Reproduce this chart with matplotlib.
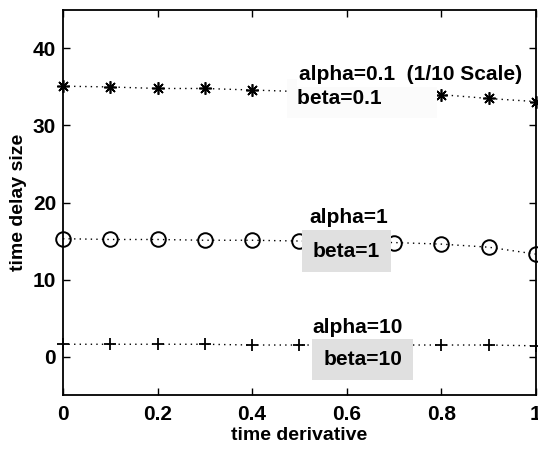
import matplotlib
matplotlib.use('Agg')
import matplotlib.pyplot as plt

plt.rcParams['font.family'] = ['Liberation Sans', 'DejaVu Sans']

x = [0, 0.1, 0.2, 0.3, 0.4, 0.5, 0.6, 0.7, 0.8, 0.9, 1.0]
# alpha=beta=0.1 (1/10 scale)
y_small = [35.1, 35.0, 34.8, 34.8, 34.6, 34.4, 34.3, 34.2, 34.0, 33.5, 33.1]
# alpha=beta=1
y_mid = [15.3, 15.2, 15.2, 15.1, 15.1, 15.0, 14.9, 14.8, 14.6, 14.2, 13.3]
# alpha=beta=10
y_big = [1.6, 1.6, 1.6, 1.6, 1.5, 1.5, 1.5, 1.5, 1.5, 1.5, 1.4]

fig = plt.figure(figsize=(5.38, 4.5), dpi=100)
ax = fig.add_axes([0.117, 0.122, 0.879, 0.856])

dots = (0, (1, 3))
ax.plot(x, y_small, color='k', ls=dots, marker=(8, 2, 0), ms=9, mew=1.2, lw=1, clip_on=False)
ax.plot(x, y_mid, color='k', ls=dots, marker='o', ms=10.5, mfc='none', mew=1.4, lw=1, clip_on=False)
ax.plot(x, y_big, color='k', ls=dots, marker='+', ms=9, mew=1.3, lw=1, clip_on=False)

white = dict(facecolor='white', edgecolor='none', pad=2)
pale = dict(facecolor='#fbfbfb', edgecolor='none', pad=7)
grey = dict(facecolor='#e0e0e0', edgecolor='none', pad=8)
tkw = dict(fontsize=15, fontweight='bold', va='center')
ax.text(0.495, 33.5, 'beta=0.1        ', ha='left', bbox=pale, zorder=5, **tkw)
ax.text(0.50, 36.6, 'alpha=0.1  (1/10 Scale)', ha='left', bbox=white, zorder=6, **tkw)
ax.text(0.605, 18.0, 'alpha=1', ha='center', zorder=5, **tkw)
ax.text(0.60, 13.7, 'beta=1', ha='center', bbox=grey, zorder=5, **tkw)
ax.text(0.624, 3.8, 'alpha=10', ha='center', zorder=5, **tkw)
ax.text(0.634, -0.4, 'beta=10', ha='center', bbox=grey, zorder=5, **tkw)

ax.set_xlim(0, 1)
ax.set_ylim(-5, 45)
ax.set_xticks([0, 0.2, 0.4, 0.6, 0.8, 1])
ax.set_xticklabels(['0', '0.2', '0.4', '0.6', '0.8', '1'])
ax.set_yticks([0, 10, 20, 30, 40])
ax.tick_params(direction='in', top=True, right=True, length=5, labelsize=15, width=1)
ax.tick_params(axis='x', pad=7)
ax.tick_params(axis='y', pad=5)
for lab in ax.get_xticklabels() + ax.get_yticklabels():
    lab.set_fontweight('bold')
for s in ax.spines.values():
    s.set_linewidth(1.3)
ax.set_xlabel('time derivative', fontsize=14, fontweight='bold', labelpad=2)
ax.set_ylabel('time delay size', fontsize=14, fontweight='bold', labelpad=4)

fig.savefig('out.png', dpi=100)
